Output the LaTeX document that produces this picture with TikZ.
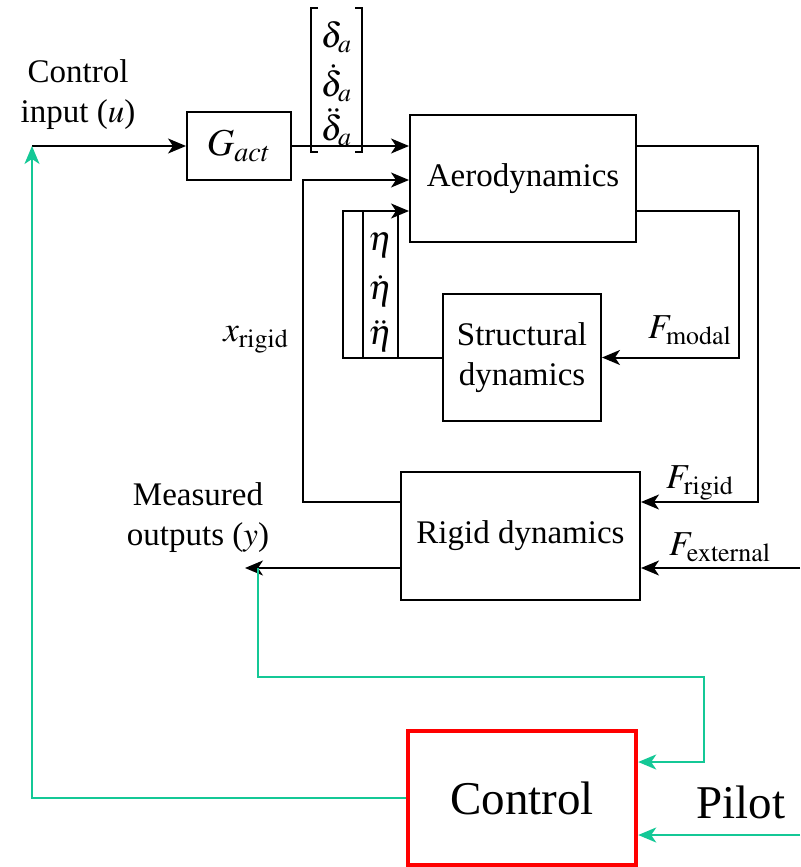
\documentclass[tikz,border=0pt]{standalone}
\usepackage{mathptmx}
\usepackage{fontspec}
\setmainfont{Liberation Serif}
\usetikzlibrary{arrows.meta}
\definecolor{pilotgreen}{RGB}{20,200,150}
\tikzset{
  blk/.style={draw, line width=1pt, align=center, inner sep=0pt},
  arr/.style={line width=1pt, -{Stealth[length=9pt,width=7.5pt,inset=2.5pt]}},
  garr/.style={pilotgreen, line width=1pt, -{Stealth[length=9pt,width=7.5pt,inset=2.5pt]}},
  lbl/.style={inner sep=0pt, align=center},
  vec/.style={inner sep=0pt, font=\fontsize{17.5pt}{20pt}\selectfont},
  flbl/.style={inner sep=0pt, font=\fontsize{17.5pt}{20pt}\selectfont}
}
\begin{document}
\begin{tikzpicture}[x=0.5pt, y=-0.5pt, font=\fontsize{16.5pt}{20pt}\selectfont]
    \useasboundingbox (0,0) rectangle (800,867);

    % Bloecke
    \node[blk, minimum width=52pt, minimum height=34pt, font=\fontsize{19pt}{22pt}\selectfont] (gact) at (239,146) {$G_{act}$};
    \node[blk, minimum width=113pt, minimum height=63.5pt] (aero) at (523,178.5) {Aerodynamics};
    \node[blk, minimum width=79pt, minimum height=63.5pt] (struct) at (522,357.5) {Structural\\dynamics};
    \node[blk, minimum width=119.5pt, minimum height=64pt] (rigid) at (520.5,536) {Rigid dynamics};
    \node[blk, draw=red, line width=2.2pt, minimum width=114pt, minimum height=67pt,
          font=\fontsize{23.5pt}{27pt}\selectfont] (ctrl) at (522,798) {Control};

    % Freie Enden
    \coordinate (uin) at (32,146);
    \coordinate (yout) at (245,568);

    % Eingang und Aktuator
    \draw[arr] (uin) -- (gact.west);
    \draw[arr] (gact.east) -- (aero.west |- 0,146);
    \node[lbl] (ulbl) at (78,95) {Control\\input ($u$)};

    % Vektor der Ruderausschlaege
    \draw[line width=1pt] (318,8) -| (311,152) -- (318,152);
    \draw[line width=1pt] (355,8) -| (362,152) -- (355,152);
    \node[vec] (d0) at (336.5,37) {$\delta_a$};
    \node[vec] (d1) at (336.5,83) {$\dot{\delta}_a$};
    \node[vec] (d2) at (336.5,127) {$\ddot{\delta}_a$};

    % Rueckfuehrung x_rigid
    \draw[arr] (rigid.west |- 0,502) -- (303,502) |- (aero.west |- 0,180);
    \node[flbl] (xlbl) at (256,340) {$x_{\mathrm{rigid}}$};

    % Modale Koordinaten
    \draw[arr] (struct.west) -| (343,211) -- (aero.west |- 0,211);
    \draw[line width=1pt] (363,211) rectangle (398,357.5);
    \node[vec] (e0) at (380.5,245) {$\eta$};
    \node[vec] (e1) at (380.5,291) {$\dot{\eta}$};
    \node[vec] (e2) at (380.5,336) {$\ddot{\eta}$};

    % Kraefte
    \draw[arr] (aero.east |- 0,146) -- (758,146) |- (rigid.east |- 0,502);
    \draw[arr] (aero.east |- 0,211) -- (739,211) |- (struct.east);
    \draw[arr] (800,568) -- (rigid.east |- 0,568);
    \node[flbl] (fm) at (690,330) {$F_{\mathrm{modal}}$};
    \node[flbl] (fr) at (700,483) {$F_{\mathrm{rigid}}$};
    \node[flbl] (fe) at (720,547) {$F_{\mathrm{external}}$};

    % Messgroessen
    \draw[arr] (rigid.west |- 0,568) -- (yout);
    \node[lbl] (ylbl) at (198,518) {Measured\\outputs ($y$)};

    % Regler und Pilot
    \draw[garr] (258,568) -- (258,677) -| (704,762) -- (ctrl.east |- 0,762);
    \draw[garr] (ctrl.west) -| (uin);
    \draw[garr] (800,835) -- (ctrl.east |- 0,835);
    \node[lbl, font=\fontsize{23.5pt}{27pt}\selectfont] (pilot) at (741,802) {Pilot};
\end{tikzpicture}
\end{document}
